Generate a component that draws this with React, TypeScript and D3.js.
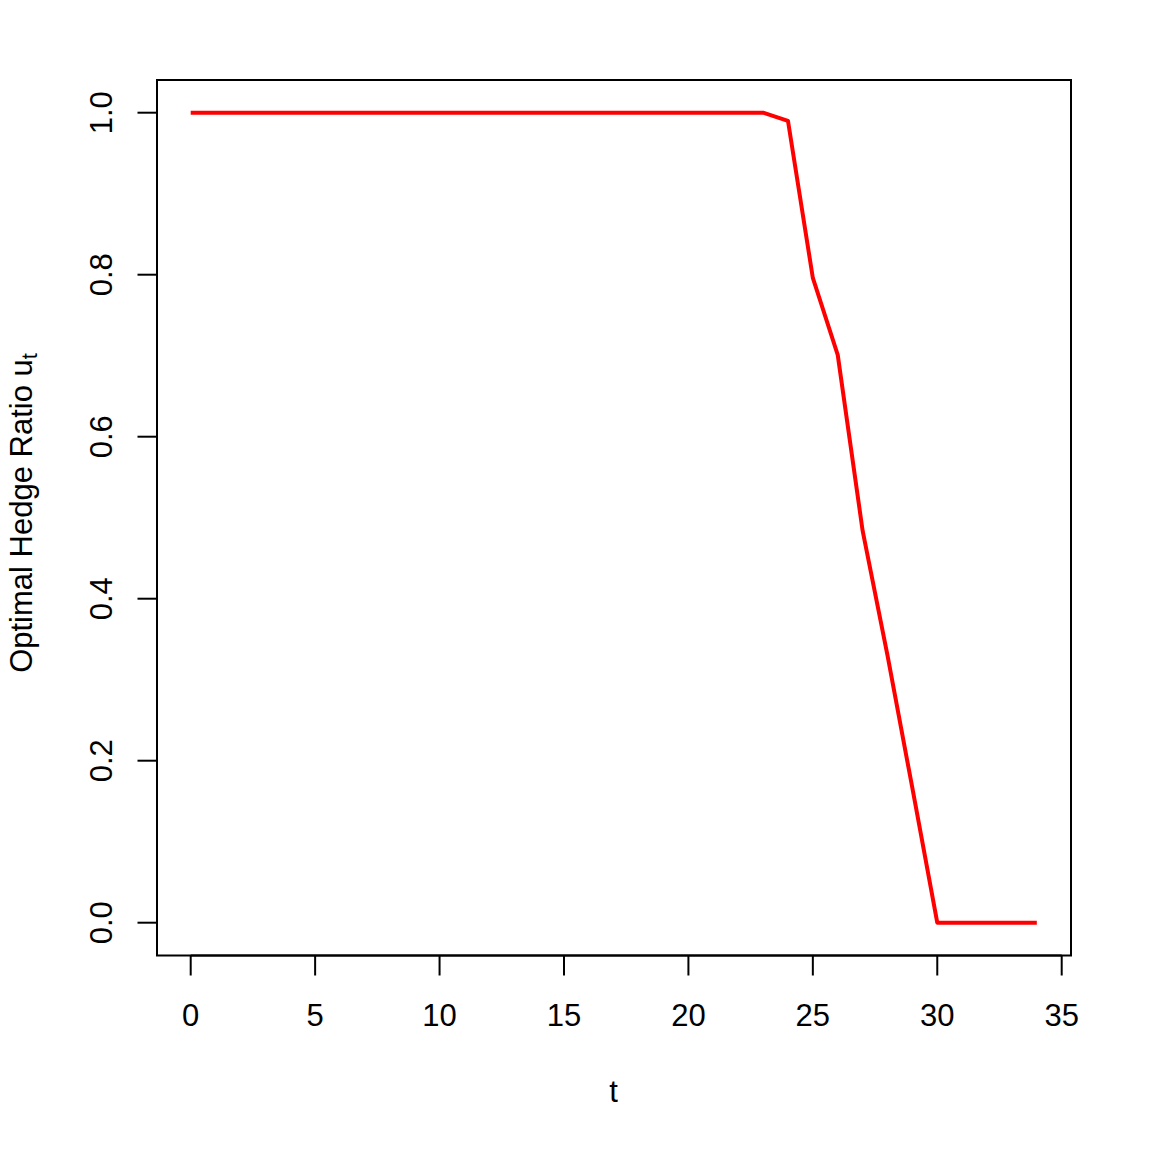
import React from "react";
import * as d3 from "d3";

const tValues = d3.range(0, 35);
const hedgeRatio = [
  1, 1, 1, 1, 1, 1, 1, 1, 1, 1,
  1, 1, 1, 1, 1, 1, 1, 1, 1, 1,
  1, 1, 1, 1, 0.99, 0.796, 0.701, 0.484, 0.33, 0.166,
  0, 0, 0, 0, 0,
];
const xTicks = [0, 5, 10, 15, 20, 25, 30, 35];
const yTicks = [0, 0.2, 0.4, 0.6, 0.8, 1.0];

const W = 1152, H = 1152;
const box = { left: 157, right: 1071, top: 80, bottom: 955.5 };
const FONT = "Liberation Sans, Arial, sans-serif";
const FS = 31;

export default function App() {
  const x = d3.scaleLinear().domain([0, 35]).range([190.7, 1061.7]);
  const y = d3.scaleLinear().domain([0, 1]).range([922.7, 112.7]);
  const data = tValues.map((t, i) => ({ t, v: hedgeRatio[i] }));
  const line = d3.line<{ t: number; v: number }>().x(d => x(d.t)).y(d => y(d.v));

  return (
    <svg width={W} height={H} style={{ position: "absolute", left: 0, top: 0, background: "#fff" }}
      fontFamily={FONT}>
      <rect x={0} y={0} width={W} height={H} fill="#fff" />
      <path d={line(data) || ""} fill="none" stroke="#ff0000" strokeWidth={4} strokeLinejoin="round" />
      <rect x={box.left} y={box.top} width={box.right - box.left} height={box.bottom - box.top}
        fill="none" stroke="#000" strokeWidth={2} />
      {/* x axis */}
      <line x1={x(0)} x2={x(35)} y1={box.bottom} y2={box.bottom} stroke="#000" strokeWidth={2} />
      {xTicks.map(t => (
        <g key={"x" + t}>
          <line x1={x(t)} x2={x(t)} y1={box.bottom} y2={975.5} stroke="#000" strokeWidth={2} />
          <text x={x(t)} y={1025.5} textAnchor="middle" fontSize={FS} fill="#000">{t}</text>
        </g>
      ))}
      {/* y axis */}
      <line x1={box.left} x2={box.left} y1={y(0)} y2={y(1)} stroke="#000" strokeWidth={2} />
      {yTicks.map(v => (
        <g key={"y" + v}>
          <line x1={137.5} x2={box.left} y1={y(v)} y2={y(v)} stroke="#000" strokeWidth={2} />
          <text transform={`translate(112,${y(v)}) rotate(-90)`} textAnchor="middle" fontSize={FS} fill="#000">
            {v.toFixed(1)}
          </text>
        </g>
      ))}
      <text x={613.5} y={1102} textAnchor="middle" fontSize={FS} fill="#000">t</text>
      <text transform={`translate(32,513) rotate(-90)`} textAnchor="middle"
        fontSize={FS} fill="#000">
        Optimal Hedge Ratio u<tspan fontSize={22} dy={5}>t</tspan>
      </text>
    </svg>
  );
}
